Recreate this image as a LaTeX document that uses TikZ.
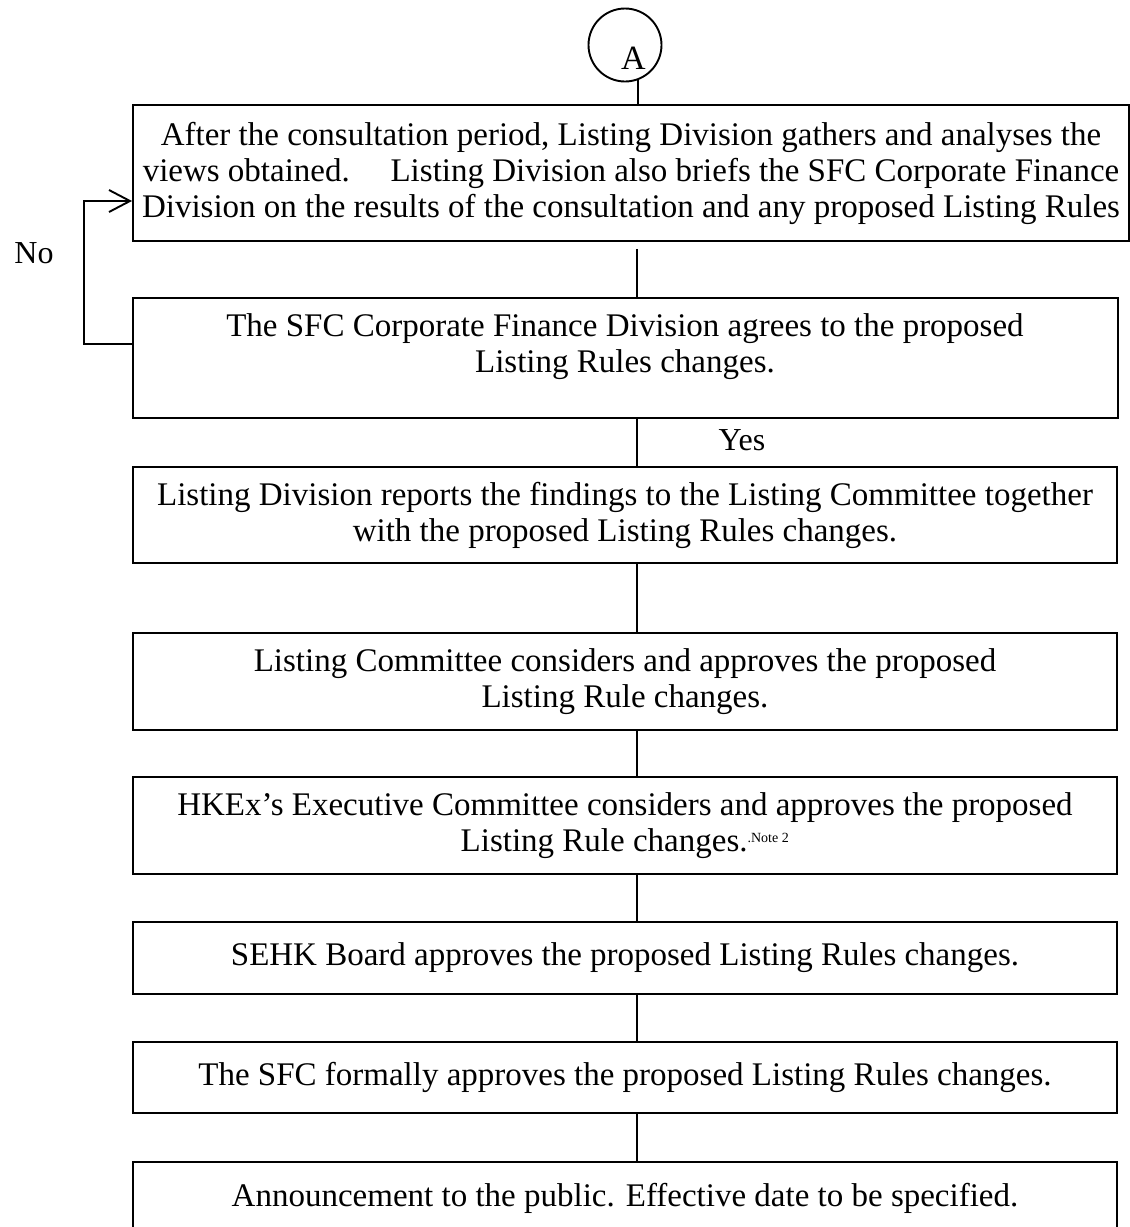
\documentclass[tikz,border=0pt]{standalone}
\usepackage{fontspec}
\setmainfont{Liberation Serif}
\usepackage{tikz}
\usetikzlibrary{positioning,arrows.meta}

\begin{document}
\begin{tikzpicture}[x=1pt, y=-1pt,
    stepbox/.style={draw, line width=1.9pt, minimum width=984pt, inner sep=0pt,
                    align=center, font=\fontsize{33}{36}\selectfont},
    link/.style={line width=1.9pt},
    tag/.style={font=\fontsize{32}{36}\selectfont}]
    \useasboundingbox (0,0) rectangle (1130,1227);

    % start marker
    \node[circle, draw, line width=1.9pt, minimum size=73pt, inner sep=0pt] (circA) at (625,45) {};
    \node[font=\fontsize{34}{36}\selectfont] (labA) at (633.5,58) {A};
    \coordinate (spine) at (637,0);

    % steps
    \node[stepbox, minimum width=996pt, minimum height=136pt] (b1) at (631,173)
      {After the consultation period, Listing Division gathers and analyses the\\
       views obtained.\hspace{0.9em} Listing Division also briefs the SFC Corporate Finance\\
       Division on the results of the consultation and any proposed Listing Rules};
    \node[stepbox, minimum width=985pt, minimum height=120pt] (b2) at (625.5,358) {};
    \node[align=center, inner sep=0pt, font=\fontsize{33}{36}\selectfont] (b2text) at (625,347)
      {The SFC Corporate Finance Division agrees to the proposed\\ Listing Rules changes.};
    \node[stepbox, minimum height=96pt] (b3) at (625,515)
      {Listing Division reports the findings to the Listing Committee together\\
       with the proposed Listing Rules changes.};
    \node[stepbox, minimum height=97pt] (b4) at (625,681.5)
      {Listing Committee considers and approves the proposed\\ Listing Rule changes.};
    \node[stepbox, minimum height=97pt] (b5) at (625,825.5)
      {HKEx's Executive Committee considers and approves the proposed\\
       Listing Rule changes.\textsuperscript{\fontsize{14}{14}\selectfont .Note 2}};
    \node[stepbox, minimum height=72pt] (b6) at (625,958)
      {SEHK Board approves the proposed Listing Rules changes.};
    \node[stepbox, minimum height=71pt] (b7) at (625,1077.5)
      {The SFC formally approves the proposed Listing Rules changes.};
    \node[stepbox, minimum height=72pt] (b8) at (625,1198)
      {Announcement to the public. Effective date to be specified.};

    % labels
    \node[tag] (yes) at (742,440) {Yes};
    \node[tag] (no) at (34,253) {No};

    % connectors
    \draw[link] (circA.-70) -- (b1.north -| circA.-70);
    \draw[link, shorten <=7pt] (b1.south -| spine) -- (b2.north -| spine);
    \foreach \a/\b in {b2/b3, b3/b4, b4/b5, b5/b6, b6/b7, b7/b8}
      \draw[link] (\a.south -| spine) -- (\b.north -| spine);
    \draw[link, -{Straight Barb[length=21pt, width=22pt, line width=1.9pt]}]
      ([yshift=14pt]b2.west) -- ++(-48,0) |- ([yshift=-28pt]b1.west);
\end{tikzpicture}
\end{document}
